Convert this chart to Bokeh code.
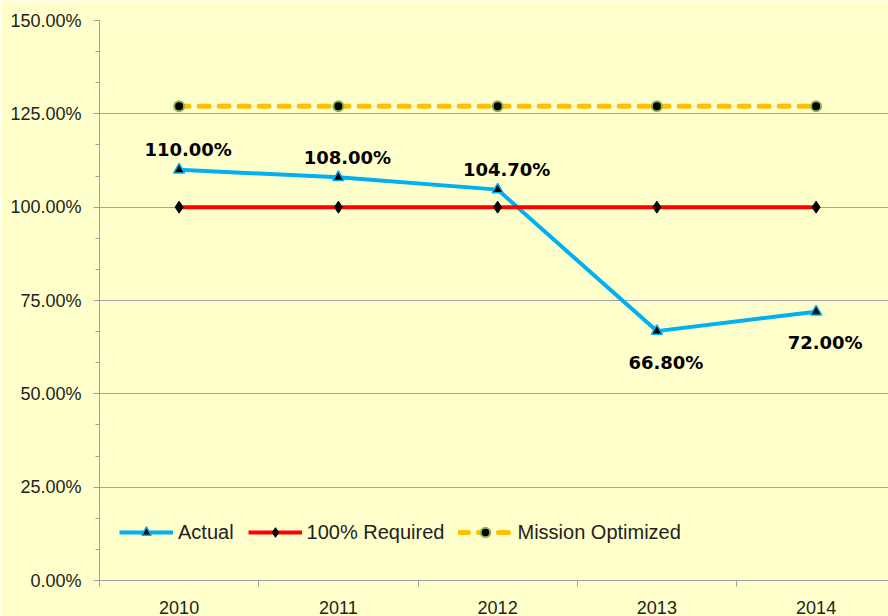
from bokeh.plotting import figure
from bokeh.models import (ColumnDataSource, Range1d, FixedTicker,
                          NumeralTickFormatter, Legend, LegendItem)
from bokeh.embed import file_html
from bokeh.resources import INLINE
from bokeh.core.properties import value

# ---- data ----
years = ["2010", "2011", "2012", "2013", "2014"]
actual = [110.0, 108.0, 104.7, 66.8, 72.0]
required = [100.0, 100.0, 100.0, 100.0, 100.0]
mission_optimized = [127.0, 127.0, 127.0, 127.0, 127.0]
y_ticks = [0, 25, 50, 75, 100, 125, 150]

BG = "#FFFFCC"
AXIS_FONT = "Liberation Sans"

xs = list(range(len(years)))
src = ColumnDataSource(dict(
    x=xs,
    actual=[v / 100 for v in actual],
    required=[v / 100 for v in required],
    mission=[v / 100 for v in mission_optimized],
    label=[f"{v:.2f}%" for v in actual],
    yoff=[-20 if a >= r else 31 for a, r in zip(actual, required)],
))

W, H = 888, 616
left, right_b, top, bottom = 99, 0, 20, 36
frame_w = W - left - right_b
cat_w = 159.25
p = figure(width=W, height=H, output_backend="svg", toolbar_location=None,
           x_range=Range1d(-0.5, -0.5 + frame_w / cat_w),
           y_range=Range1d(y_ticks[0] / 100, y_ticks[-1] / 100),
           min_border_left=left, min_border_right=right_b,
           min_border_top=top, min_border_bottom=bottom)
p.background_fill_color = BG
p.border_fill_color = BG
p.outline_line_color = None

# axes
p.xaxis.ticker = FixedTicker(ticks=xs, minor_ticks=[i - 0.5 for i in range(len(years) + 1)])
p.xaxis.major_label_overrides = {i: y for i, y in enumerate(years)}
p.xaxis.major_tick_line_color = None
p.xaxis.major_tick_out = 0
p.xaxis.major_tick_in = 0
p.xaxis.minor_tick_out = 6
p.xaxis.minor_tick_in = 0
p.xaxis.minor_tick_line_color = "#A0A0A0"
p.xaxis.axis_line_color = "#A0A0A0"
p.xaxis.major_label_standoff = 14
p.xaxis.major_label_text_font = AXIS_FONT
p.xaxis.major_label_text_font_size = "18px"
p.xaxis.major_label_text_color = "#222222"

p.yaxis.ticker = FixedTicker(ticks=[t / 100 for t in y_ticks],
                             minor_ticks=[i * 25 / 300 for i in range(19)])
p.yaxis.formatter = NumeralTickFormatter(format="0.00%")
p.yaxis.major_tick_out = 6
p.yaxis.major_tick_in = 0
p.yaxis.minor_tick_out = 4
p.yaxis.minor_tick_in = 0
p.yaxis.major_tick_line_color = "#A0A0A0"
p.yaxis.minor_tick_line_color = "#A0A0A0"
p.yaxis.axis_line_color = "#A0A0A0"
p.yaxis.major_label_standoff = 12
p.yaxis.major_label_text_font = AXIS_FONT
p.yaxis.major_label_text_font_size = "18px"
p.yaxis.major_label_text_color = "#222222"

p.xgrid.grid_line_color = None
p.ygrid.grid_line_color = "#A6A6A6"
p.ygrid.grid_line_width = 1

# series
l1 = p.line("x", "actual", source=src, line_color="#00B0F0", line_width=4)
m1 = p.scatter("x", "actual", source=src, marker="triangle", size=11,
               fill_color="black", line_color="#00B0F0", line_width=1.5)
l2 = p.line("x", "required", source=src, line_color="#FF0000", line_width=4)
m2 = p.scatter("x", "required", source=src, marker="diamond", size=12,
               fill_color="black", line_color="black", line_width=1)
l3 = p.line("x", "mission", source=src, line_color="#FFC000", line_width=5,
            line_dash="10 10", line_cap="round")
m3 = p.scatter("x", "mission", source=src, marker="circle", size=10,
               fill_color="black", line_color="#8DB359", line_width=2)

p.text("x", "actual", text="label", source=src, x_offset=9, y_offset="yoff",
       text_align="center", text_baseline="middle",
       text_font=value("DejaVu Sans"), text_font_style="bold",
       text_font_size="18px", text_color="black")

legend = Legend(items=[
    LegendItem(label="Actual", renderers=[l1, m1]),
    LegendItem(label="100% Required", renderers=[l2, m2]),
    LegendItem(label="Mission Optimized", renderers=[l3, m3]),
], orientation="horizontal", location=(20, 36))
legend.background_fill_alpha = 0
legend.border_line_color = None
legend.padding = 0
legend.margin = 0
legend.spacing = 14
legend.glyph_width = 54
legend.glyph_height = 24
legend.label_height = 24
legend.label_standoff = 5
legend.label_text_font = AXIS_FONT
legend.label_text_font_size = "20px"
legend.label_text_color = "#222222"
p.add_layout(legend, "center")

html = file_html(p, INLINE)
html = html.replace("<body>", f'<body style="background:{BG};">', 1)
open("out.html", "w").write(html)
